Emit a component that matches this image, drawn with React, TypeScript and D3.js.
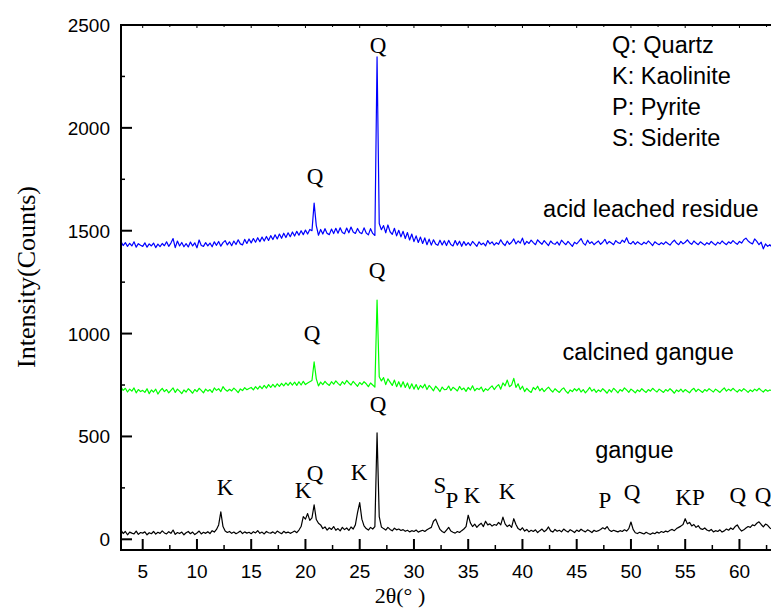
import React from "react";
import * as d3 from "d3";

// 2θ sampling grid: 3.0 .. 63.0 step 0.2
const TWO_THETA_START = 3.0;
const TWO_THETA_STEP = 0.2;

const acidLeached: number[] = [
  1448,1428,1442,1424,1439,1426,1446,1420,1437,1429,
  1424,1441,1420,1436,1426,1440,1418,1435,1423,1438,
  1427,1446,1424,1440,1462,1418,1450,1426,1443,1422,
  1437,1421,1445,1426,1441,1417,1455,1428,1424,1442,
  1426,1440,1422,1446,1429,1448,1425,1442,1452,1431,
  1446,1427,1450,1433,1456,1436,1431,1458,1438,1460,
  1441,1462,1444,1466,1447,1469,1450,1472,1453,1476,
  1457,1480,1460,1484,1463,1488,1467,1490,1471,1494,
  1474,1497,1478,1500,1481,1503,1484,1506,1500,1634,
  1525,1478,1506,1484,1510,1487,1481,1508,1486,1512,
  1488,1514,1491,1485,1513,1490,1518,1494,1487,1511,
  1491,1486,1514,1489,1480,1510,1487,1477,2345,1535,
  1505,1525,1490,1528,1495,1482,1512,1475,1502,1470,
  1497,1462,1491,1455,1484,1447,1475,1443,1469,1438,
  1465,1432,1459,1430,1456,1436,1429,1454,1431,1451,
  1428,1453,1433,1426,1452,1430,1449,1424,1447,1429,
  1442,1428,1448,1436,1424,1446,1432,1440,1426,1452,
  1436,1446,1430,1442,1434,1456,1438,1428,1450,1434,
  1444,1460,1436,1450,1440,1464,1432,1448,1438,1454,
  1442,1432,1456,1444,1434,1452,1440,1428,1450,1438,
  1434,1446,1430,1454,1442,1432,1448,1436,1424,1444,
  1436,1448,1462,1440,1430,1454,1438,1446,1432,1442,
  1450,1434,1444,1458,1436,1448,1440,1432,1452,1442,
  1438,1454,1444,1466,1440,1436,1448,1434,1446,1438,
  1432,1444,1436,1450,1440,1428,1446,1438,1432,1442,
  1434,1446,1438,1430,1444,1454,1440,1432,1448,1436,
  1444,1456,1442,1434,1450,1440,1432,1446,1438,1430,
  1442,1434,1448,1438,1430,1444,1436,1450,1440,1432,
  1446,1438,1452,1442,1434,1448,1440,1456,1464,1450,
  1442,1436,1460,1448,1432,1444,1412,1436,1424,1432,
  1420,
];

const calcined: number[] = [
  740,724,734,716,730,720,736,712,728,718,
  724,714,732,708,726,716,730,706,722,734,
  718,728,712,724,736,714,730,720,708,726,
  716,732,722,710,728,718,734,724,712,730,
  720,728,714,736,724,732,718,742,728,720,
  729,721,735,725,713,731,723,737,727,733,
  738,726,742,730,745,732,748,735,752,738,
  753,740,756,743,758,746,760,748,763,750,
  764,748,766,750,768,752,760,766,772,862,
  780,746,764,752,768,756,748,766,754,770,
  758,748,766,754,772,760,750,768,756,744,
  762,752,766,756,742,760,750,740,1163,790,
  770,786,752,780,764,748,774,742,766,740,
  766,738,760,732,756,730,752,728,748,736,
  754,728,748,736,722,744,732,718,740,728,
  729,745,723,739,731,721,743,727,735,719,
  738,726,746,722,734,728,740,718,732,724,
  736,746,728,742,752,730,760,746,774,742,
  750,782,738,756,728,744,718,734,722,714,
  738,728,744,722,734,718,730,740,726,716,
  732,722,714,728,736,720,710,726,718,732,
  722,734,716,728,712,724,738,720,730,714,
  726,718,732,722,710,728,716,734,724,712,
  728,720,736,726,714,730,722,712,726,718,
  732,722,714,728,720,734,724,716,730,722,
  714,728,720,732,722,710,726,718,730,716,
  728,720,712,726,734,718,730,722,714,728,
  720,732,724,716,730,722,714,726,736,720,
  730,722,734,724,716,728,720,732,724,714,
  726,718,730,722,734,724,716,728,720,726,
  722,
];

const gangue: number[] = [
  45,28,38,22,35,30,26,40,24,33,
  30,36,22,32,27,38,25,34,29,41,
  31,26,37,29,45,24,33,28,35,22,
  32,38,27,35,23,31,40,26,34,29,
  37,28,42,35,48,70,133,62,40,33,
  38,29,35,27,33,40,28,36,30,34,
  27,37,31,42,29,35,26,38,32,30,
  36,28,40,33,27,39,31,35,29,34,
  40,32,45,62,110,98,125,92,104,167,
  96,78,70,52,60,45,56,48,62,44,
  52,41,58,47,55,43,60,50,70,130,
  178,98,65,52,45,58,50,62,517,110,
  60,52,45,58,48,41,54,46,50,43,
  47,39,44,36,42,38,45,35,40,44,
  38,46,52,58,88,98,72,48,38,32,
  45,58,40,34,30,38,33,42,50,62,
  117,80,62,74,58,70,78,62,88,70,
  75,64,72,68,82,70,108,75,62,70,
  58,100,72,52,45,56,40,48,36,44,
  38,46,33,42,50,37,45,60,41,35,
  48,39,44,36,50,42,35,47,40,33,
  45,38,49,42,36,46,40,33,44,38,
  42,48,56,50,62,45,38,44,40,36,
  42,38,46,40,52,84,48,32,28,34,
  30,26,34,28,24,31,27,35,30,38,
  33,40,36,44,48,42,52,58,64,72,
  100,75,82,65,72,58,66,52,48,55,
  45,40,48,36,42,38,46,35,41,50,
  44,55,48,62,70,52,40,46,55,62,
  58,70,66,78,85,72,60,74,68,55,
  50,
];

const seriesNames = ["acid leached residue", "calcined gangue", "gangue"];
const seriesColors = ["#0000ff", "#00ff00", "#000000"];
// label anchor (2θ, counts) for series names (start of text, baseline)
const seriesLabelX = [41.9, 43.7, 46.7];
const seriesLabelY = [1567, 872, 396];

const xTicks = [5, 10, 15, 20, 25, 30, 35, 40, 45, 50, 55, 60];
const yTicks = [0, 500, 1000, 1500, 2000, 2500];

const legendLines = ["Q: Quartz", "K: Kaolinite", "P: Pyrite", "S: Siderite"];

// peak labels: text, 2θ (center), counts (baseline)
const peakText = ["Q", "Q", "Q", "Q", "K", "K", "Q", "K", "Q", "S", "P", "K", "K", "P", "Q", "KP", "Q", "Q"];
const peakX = [20.88, 26.69, 20.6, 26.6, 12.59, 19.77, 20.88, 24.94, 26.69, 32.4, 33.5, 35.35, 38.58, 47.6, 50.1, 55.44, 59.86, 62.17];
const peakY = [1727, 2364, 964, 1270, 215, 201, 284, 288, 619, 225, 153, 177, 196, 153, 191, 167, 177, 177];

const W = 771;
const H = 608;
const left = 121;
const right = 772;
const top = 25;
const axisY = 550;

export default function App() {
  const x = d3.scaleLinear().domain([3, 63]).range([left, right]);
  const y = d3.scaleLinear().domain([0, 2500]).range([539.3, top]);

  const series = [acidLeached, calcined, gangue];
  const line = d3
    .line<number>()
    .x((_, i) => x(TWO_THETA_START + TWO_THETA_STEP * i))
    .y((d) => y(d));

  const xMinor = d3.range(2.5, 63, 2.5).filter((v) => v > 3 && !xTicks.includes(v));
  const yMinor = d3.range(250, 2500, 500);

  const sans = "'Liberation Sans', Arial, sans-serif";
  const serif = "'Liberation Serif', 'Times New Roman', serif";

  return (
    <svg
      width={W}
      height={H}
      style={{ position: "absolute", left: 0, top: 0, background: "#fff" }}
    >
      <rect x={0} y={0} width={W} height={H} fill="#fff" />
      <defs>
        <clipPath id="plotclip">
          <rect x={left} y={top} width={right - left} height={axisY - top} />
        </clipPath>
      </defs>
      <g clipPath="url(#plotclip)">
        {series.map((s, k) => (
          <path
            key={k}
            d={line(s) || ""}
            fill="none"
            stroke={seriesColors[k]}
            strokeWidth={1.2}
            strokeLinejoin="round"
          />
        ))}
      </g>

      {/* axes frame */}
      <line x1={left} x2={left} y1={top - 1} y2={axisY + 1} stroke="#000" strokeWidth={2} />
      <line x1={left - 1} x2={W} y1={axisY} y2={axisY} stroke="#000" strokeWidth={2} />
      <line x1={left - 1} x2={W} y1={top} y2={top} stroke="#000" strokeWidth={2} />

      {/* bottom ticks */}
      {xTicks.map((t) => (
        <g key={"xt" + t}>
          <line x1={x(t)} x2={x(t)} y1={axisY} y2={axisY - 11} stroke="#000" strokeWidth={2} />
          <line x1={x(t)} x2={x(t)} y1={top} y2={top + 3} stroke="#000" strokeWidth={1} />
          <text x={x(t)} y={578} textAnchor="middle" fontFamily={sans} fontSize={19}>
            {t}
          </text>
        </g>
      ))}
      {xMinor.map((t) => (
        <g key={"xm" + t}>
          <line x1={x(t)} x2={x(t)} y1={axisY} y2={axisY - 5} stroke="#000" strokeWidth={1.5} />
          <line x1={x(t)} x2={x(t)} y1={top} y2={top + 2} stroke="#000" strokeWidth={1} />
        </g>
      ))}

      {/* left ticks */}
      {yTicks.map((t) => (
        <g key={"yt" + t}>
          <line x1={left} x2={left + 11} y1={y(t)} y2={y(t)} stroke="#000" strokeWidth={2} />
          <text x={110} y={y(t) + 7} textAnchor="end" fontFamily={sans} fontSize={19}>
            {t}
          </text>
        </g>
      ))}
      {yMinor.map((t) => (
        <line key={"ym" + t} x1={left} x2={left + 4} y1={y(t)} y2={y(t)} stroke="#000" strokeWidth={1.5} />
      ))}

      {/* axis titles */}
      <text
        transform={`translate(35, 277) rotate(-90)`}
        textAnchor="middle"
        fontFamily={serif}
        fontSize={26}
      >
        Intensity(Counts)
      </text>
      <text x={400} y={603} textAnchor="middle" fontFamily={serif} fontSize={22}>
        2θ(° )
      </text>

      {/* legend */}
      {legendLines.map((l, i) => (
        <text key={l} x={612} y={53 + i * 31} fontFamily={sans} fontSize={23.5}>
          {l}
        </text>
      ))}

      {/* series names */}
      {seriesNames.map((n, i) => (
        <text key={n} x={x(seriesLabelX[i])} y={y(seriesLabelY[i])} fontFamily={sans} fontSize={23.5}>
          {n}
        </text>
      ))}

      {/* peak labels */}
      {peakText.map((p, i) => (
        <text
          key={"pk" + i}
          x={x(peakX[i])}
          y={y(peakY[i])}
          textAnchor="middle"
          fontFamily={serif}
          fontSize={23}
        >
          {p}
        </text>
      ))}
    </svg>
  );
}
